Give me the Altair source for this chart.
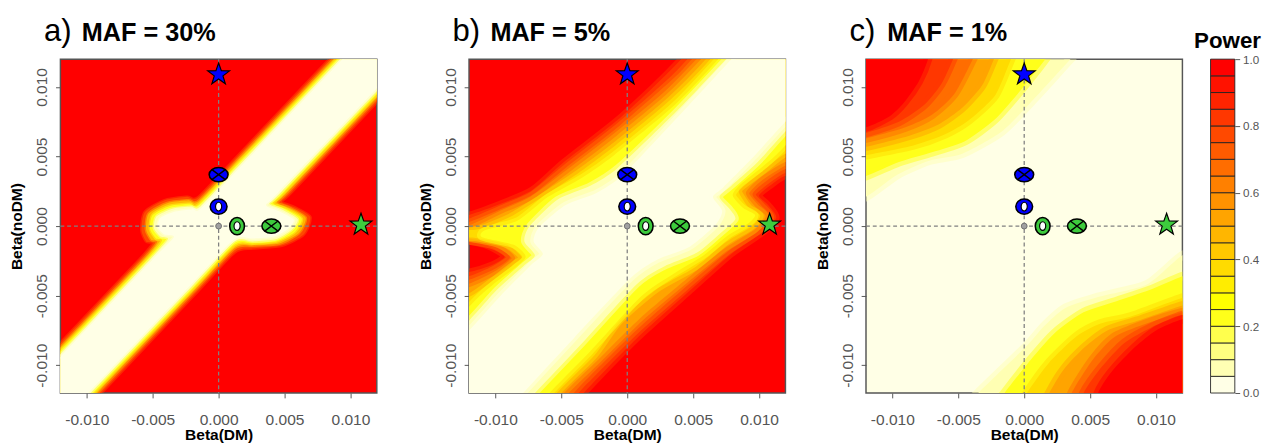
import altair as alt
import pandas as pd

# ---------------- colour palette: R heat.colors(20), from power 0.0 (bottom) to 1.0 (top)
BAND_COLORS = ["#FFFFE6", "#FFFFB3", "#FFFF80", "#FFFF4D", "#FFFF1A", "#FFFF00", "#FFED00",
               "#FFDB00", "#FFC800", "#FFB600", "#FFA400", "#FF9200", "#FF8000", "#FF6D00",
               "#FF5B00", "#FF4900", "#FF3700", "#FF2400", "#FF1200", "#FF0000"]
BAND_LO = [0.00, 0.05, 0.10, 0.15, 0.20, 0.25, 0.30, 0.35, 0.40, 0.45,
           0.50, 0.55, 0.60, 0.65, 0.70, 0.75, 0.80, 0.85, 0.90, 0.95]
BAND_HI = [0.05, 0.10, 0.15, 0.20, 0.25, 0.30, 0.35, 0.40, 0.45, 0.50,
           0.55, 0.60, 0.65, 0.70, 0.75, 0.80, 0.85, 0.90, 0.95, 1.00]
CB_TICKS = [0.0, 0.2, 0.4, 0.6, 0.8, 1.0]
AXIS_TICKS = [-0.010, -0.005, 0.0, 0.005, 0.010]

# ---------------- power contours (units of 1e-3) ----------------
# panel a: region with power below the level (over a red background)
A_P90 = [(-20, -16.4), (-12, -8.4), (-6.0, -2.4), (-5.0, -1.25), (-5.5, -1.1), (-5.85, -0.3), (-5.6, 1.0),
         (-4.1, 1.85), (-2.4, 2.1), (-1.5, 2.1), (2, 5.6), (12, 15.6), (20, 23.6),
         (20, 16.9), (12, 8.9), (5.6, 2.5), (4.8, 1.75), (5.75, 1.35), (6.95, 0.65), (6.45, -0.6),
         (4.8, -1.4), (2.6, -1.6), (1.2, -1.9), (-2, -5.1), (-12, -15.1), (-20, -23.1)]
A_P60 = [(-20, -16.7), (-12, -8.7), (-5.7, -2.4), (-4.65, -1.15), (-5.1, -1.0), (-5.5, -0.25), (-5.3, 0.9),
         (-3.9, 1.65), (-2.3, 1.85), (-1.45, 1.85), (2, 5.3), (12, 15.3), (20, 23.3),
         (20, 17.2), (12, 9.2), (5.3, 2.5), (4.45, 1.7), (5.4, 1.3), (6.6, 0.6), (6.1, -0.5),
         (4.6, -1.25), (2.6, -1.4), (1.2, -1.6), (-2, -4.8), (-12, -14.8), (-20, -22.8)]
A_P30 = [(-20, -16.95), (-12, -8.95), (-5.45, -2.4), (-4.3, -1.05), (-4.75, -0.9), (-5.2, -0.2), (-5.0, 0.8),
         (-3.7, 1.45), (-2.2, 1.6), (-1.45, 1.6), (2, 5.05), (12, 15.05), (20, 23.05),
         (20, 17.45), (12, 9.45), (5.0, 2.45), (4.15, 1.65), (5.1, 1.25), (6.3, 0.55), (5.8, -0.4),
         (4.4, -1.1), (2.6, -1.25), (1.2, -1.35), (-2, -4.55), (-12, -14.55), (-20, -22.55)]
A_P12 = [(-20, -17.2), (-12, -9.2), (-5.2, -2.4), (-3.85, -0.95), (-4.4, -0.75), (-4.9, -0.15), (-4.7, 0.7),
         (-3.5, 1.25), (-2.1, 1.4), (-1.35, 1.45), (2, 4.8), (12, 14.8), (20, 22.8),
         (20, 17.7), (12, 9.7), (4.75, 2.45), (3.85, 1.6), (4.8, 1.2), (6.0, 0.5), (5.5, -0.3),
         (4.3, -0.95), (2.6, -1.1), (1.2, -1.1), (-2, -4.3), (-12, -14.3), (-20, -22.3)]
A_P03 = [(-20, -17.4), (-12, -9.4), (-5.0, -2.4), (-3.4, -0.8), (-4.1, -0.6), (-4.6, -0.1), (-4.4, 0.6),
         (-3.3, 1.05), (-2.0, 1.2), (-1.3, 1.3), (2, 4.6), (12, 14.6), (20, 22.6),
         (20, 17.9), (12, 9.9), (4.5, 2.4), (3.6, 1.5), (4.5, 1.1), (5.7, 0.45), (5.2, -0.25),
         (4.2, -0.75), (2.6, -0.9), (1.2, -0.95), (-2, -4.1), (-12, -14.1), (-20, -22.1)]

# panel b: region with power below the level (over a red background)
B_P90 = [(-20, -12), (-14, -3.4), (-12, -3.3), (-10.4, -2.85), (-9.3, -2.2), (-10.4, -1.5), (-12, -1.1),
         (-14, -1.0), (-14, 0.6), (-12, 0.8), (-9.6, 1.6), (-7.2, 2.6), (-4.8, 4.6), (-0.4, 7.9),
         (4.2, 12.1), (12, 20.5),
         (20, 12), (14, 3.6), (12, 3.6), (10.9, 2.95), (10.0, 2.2), (10.7, 1.5), (11.3, 0.6),
         (10.2, -0.5), (7.9, -2.0), (4.8, -4.6), (0.7, -8.1), (-3.4, -12.1), (-12, -21)]
B_P75 = [(-20, -12.5), (-14, -4.1), (-12, -3.85), (-10.1, -3.1), (-8.9, -2.25), (-10.0, -1.5), (-12, -1.1),
         (-14, -1.0), (-14, 0.1), (-12, 0.3), (-9.55, 1.25), (-7.2, 2.25), (-4.65, 4.2), (-0.6, 7.2),
         (3.5, 10.6), (5.0, 12.1), (12, 19.5),
         (20, 12.5), (14, 4.3), (12, 4.1), (10.5, 3.2), (9.5, 2.3), (10.2, 1.45), (10.9, 0.65),
         (9.9, -0.4), (7.65, -1.8), (4.65, -4.2), (0.85, -7.35), (-2.9, -10.85), (-4.15, -12.1), (-12, -20.2)]
B_P60 = [(-20, -13), (-14, -4.8), (-12, -4.4), (-9.8, -3.4), (-8.5, -2.3), (-9.7, -1.35), (-12, -0.9),
         (-14, -0.8), (-14, -0.3), (-12, -0.2), (-9.5, 0.9), (-7.2, 1.9), (-4.5, 3.8), (-0.8, 6.5),
         (2.9, 9.4), (5.7, 12.1), (12, 18.6),
         (20, 13), (14, 5.0), (12, 4.6), (10.1, 3.5), (9.0, 2.4), (9.7, 1.4), (10.5, 0.7),
         (9.6, -0.3), (7.4, -1.6), (4.5, -3.8), (1.0, -6.6), (-2.2, -9.6), (-4.9, -12.1), (-12, -19.5)]
B_P45 = [(-20, -13.4), (-14, -5.3), (-12, -5.1), (-10.1, -3.85), (-8.6, -2.75), (-8.0, -2.25), (-9.1, -1.35),
         (-11.5, -0.85), (-14, -0.75), (-14, -0.25), (-11.4, -0.25), (-8.9, 0.65), (-6.6, 2.0), (-3.95, 3.65),
         (-0.9, 5.8), (3.3, 9.1), (6.4, 12.1), (14, 20.5),
         (20, 13.4), (14, 5.4), (12, 5.2), (10.2, 3.9), (8.6, 2.75), (8.5, 2.35), (9.2, 1.35), (10.1, 0.75),
         (9.4, -0.05), (7.5, -1.15), (5.15, -2.95), (2.2, -4.55), (-0.6, -6.85), (-2.5, -9.3), (-5.45, -12.1),
         (-14, -21)]
B_P30 = [(-20, -13.8), (-12, -5.8), (-10.3, -4.3), (-8.5, -3.0), (-7.7, -2.2), (-8.6, -1.35), (-11.0, -0.8),
         (-10.8, -0.3), (-8.3, 0.4), (-6.0, 2.1), (-3.4, 3.5), (-1.0, 5.1), (3.6, 8.7), (7.0, 12.1),
         (14, 19.6),
         (20, 13.8), (12, 5.8), (10.3, 4.3), (8.6, 3.0), (8.0, 2.2), (8.8, 1.3), (9.7, 0.8),
         (9.2, 0.2), (7.6, -0.7), (5.8, -2.1), (3.4, -3.5), (1.0, -5.1), (-2.8, -9.0), (-6.0, -12.1),
         (-14, -20.2)]
B_P12 = [(-20, -14.8), (-12, -6.8), (-9.9, -4.6), (-7.9, -2.9), (-7.0, -2.1), (-7.8, -1.1), (-7.4, 0.0),
         (-5.3, 1.9), (-2.8, 2.9), (-0.7, 4.2), (3.8, 8.3), (7.6, 12.1), (14, 18.6),
         (20, 14.8), (12, 6.8), (9.9, 4.6), (7.9, 2.9), (7.0, 2.1), (7.8, 1.2), (8.2, 0.5),
         (7.2, -0.4), (5.3, -1.9), (2.8, -2.9), (0.7, -4.2), (-3.5, -8.5), (-7.1, -12.1), (-14, -19)]
B_P03 = [(-20, -15.5), (-12, -7.5), (-9.6, -5.0), (-7.3, -2.8), (-6.4, -2.0), (-7.1, -1.1), (-6.7, -0.1),
         (-4.7, 1.5), (-2.3, 2.4), (-0.3, 3.7), (4, 8.0), (8, 12.1), (14, 18.2),
         (20, 15.5), (12, 7.5), (9.6, 5.0), (7.3, 2.8), (6.5, 2.1), (7.2, 1.1), (6.7, 0.1),
         (4.7, -1.5), (2.3, -2.4), (0.3, -3.7), (-4, -8.0), (-8, -12.1), (-14, -18.2)]

# panel c: corner regions with power above the level (over a cream background)
C_TL_P03 = [(-20, 20), (-20, 1.5), (-14, 1.6), (-12, 2.1), (-9.6, 3.7), (-7.2, 4.7), (-4.7, 5.2),
            (-1.7, 6.8), (0.7, 9.1), (3.5, 12.0), (5.5, 14), (5.5, 20)]
C_TL_P12 = [(-20, 20), (-20, 3.0), (-14, 3.2), (-12, 3.6), (-9.5, 4.6), (-7, 5.3), (-4.5, 6.1),
            (-2.3, 7.6), (-0.5, 9.5), (1.6, 12), (3, 14), (3, 20)]
C_TL_P30 = [(-20, 20), (-20, 4.6), (-14, 4.8), (-12, 5.1), (-8.4, 5.8), (-6, 6.6), (-4.2, 7.6),
            (-2.2, 9.4), (-1.0, 12), (0, 14), (0, 20)]
C_TL_P45 = [(-20, 20), (-20, 5.2), (-14, 5.4), (-12, 5.7), (-8.7, 6.5), (-6.5, 7.3), (-4.7, 8.5),
            (-3.2, 10.1), (-2.3, 12), (-1.4, 14), (-1.4, 20)]
C_TL_P60 = [(-20, 20), (-20, 5.8), (-14, 6.0), (-12, 6.3), (-9, 7.1), (-7, 8.0), (-5.3, 9.5),
            (-3.9, 12), (-3, 14), (-3, 20)]
C_TL_P75 = [(-20, 20), (-20, 6.3), (-14, 6.4), (-12, 6.7), (-9.5, 7.5), (-7.6, 8.7), (-6.3, 10.2),
            (-5.4, 12), (-4.6, 14), (-4.6, 20)]
C_TL_P90 = [(-20, 20), (-20, 6.8), (-14, 6.9), (-12, 7.1), (-10.2, 7.9), (-9.1, 8.9), (-8.0, 10.4),
            (-7.3, 12), (-6.9, 14), (-6.9, 20)]
C_BR_P03 = [(20, -20), (20, -1.5), (14, -1.6), (12, -2.1), (9.3, -4.2), (5.6, -5.1), (3.1, -5.9),
            (1.5, -7.2), (0.2, -8.6), (-3.5, -12), (-5.5, -14), (-5.5, -20)]
C_BR_P12 = [(20, -20), (20, -3.0), (14, -3.2), (12, -3.6), (9.5, -4.6), (7, -5.4), (4.5, -6.2),
            (2.3, -7.7), (0.5, -9.6), (-1.5, -12), (-3, -14), (-3, -20)]
C_BR_P30 = [(20, -20), (20, -4.6), (14, -4.8), (12, -5.15), (8.1, -6.5), (5.8, -7.0), (4.0, -7.9),
            (1.9, -9.8), (0.2, -12), (-1, -14), (-1, -20)]
C_BR_P45 = [(20, -20), (20, -5.2), (14, -5.3), (12, -5.7), (8.6, -6.8), (6.3, -7.5), (4.6, -8.7),
            (3.0, -10.3), (1.9, -12), (1, -14), (1, -20)]
C_BR_P60 = [(20, -20), (20, -5.8), (14, -5.9), (12, -6.2), (9, -7.1), (6.8, -8.0), (5.2, -9.6),
            (3.6, -12), (3, -14), (3, -20)]
C_BR_P75 = [(20, -20), (20, -6.2), (14, -6.2), (12, -6.4), (9.6, -7.3), (7.6, -8.4), (5.9, -10.1),
            (4.5, -12), (3.9, -14), (3.9, -20)]
C_BR_P90 = [(20, -20), (20, -6.6), (14, -6.6), (12, -6.7), (10, -7.5), (8.4, -8.7), (6.6, -10.5),
            (5.6, -12), (5.2, -14), (5.2, -20)]

# ---------------- markers (same in every panel) ----------------
MK_X = [0.0, 0.0040, 0.0, 0.0014, 0.0, 0.0108, 0.0]
MK_Y = [0.0037, 0.0, 0.0014, 0.0, 0.0109, 0.0001, 0.0]
MK_KIND = ["xcircle", "xcircle", "ring_wide", "ring_tall", "star", "star", "dot"]
MK_FILL = ["#0000FF", "#3DCB3D", "#0000FF", "#3DCB3D", "#0000FF", "#3DCB3D", "#A0A0A0"]

PANEL_LETTERS = ["a)", "b)", "c)"]
PANEL_TITLES = ["MAF = 30%", "MAF = 5%", "MAF = 1%"]

# ---------------- styles ----------------
FONT = "Liberation Sans"
W, H = 326, 344
ELLIPSE = "M-1,0A1,0.75,0,1,0,1,0A1,0.75,0,1,0,-1,0Z"
XPATH = "M-0.707,-0.53L0.707,0.53M-0.707,0.53L0.707,-0.53"
ELL_WIDE = "M-1,0A1,0.9,0,1,0,1,0A1,0.9,0,1,0,-1,0Z"
ELL_TALL = "M-0.85,0A0.85,1,0,1,0,0.85,0A0.85,1,0,1,0,-0.85,0Z"
ELL_INNER = "M-0.7,0A0.7,1,0,1,0,0.7,0A0.7,1,0,1,0,-0.7,0Z"
STAR = ("M0,-1L0.235,-0.324L0.951,-0.309L0.380,0.124L0.588,0.809L0,0.4L-0.588,0.809"
        "L-0.380,0.124L-0.951,-0.309L-0.235,-0.324Z")

LABEL_EXPR = "replace(format(datum.value, '.3f'), '\u2212', '-')"
SCALE = alt.Scale(domain=[-0.012, 0.012], nice=False, zero=False)
X_ENC = alt.X("x:Q", scale=SCALE,
              axis=alt.Axis(values=AXIS_TICKS, labelExpr=LABEL_EXPR, title="Beta(DM)",
                            tickSize=5, labelPadding=14, titlePadding=0, labelFontSize=16,
                            titleFontSize=16))
Y_ENC = alt.Y("y:Q", scale=SCALE,
              axis=alt.Axis(values=AXIS_TICKS, labelExpr=LABEL_EXPR, title="Beta(noDM)",
                            tickSize=5, labelPadding=6, titlePadding=10, labelFontSize=16,
                            titleFontSize=16, labelAngle=270))


def poly_frame(polys):
    rows = []
    for pid, (lvl, pts) in enumerate(polys):
        for i, (x, y) in enumerate(pts):
            rows.append({"pid": pid, "lvl": lvl, "i": i, "x": x / 1000.0, "y": y / 1000.0})
    return pd.DataFrame(rows)


def panel(polys, level_fills, bg, idx, soft):
    df = poly_frame(polys)
    layers = []
    for lvl, col in level_fills:
        layers.append(
            alt.Chart(df).transform_filter(alt.datum.lvl == lvl)
            .mark_line(fill=col, stroke=col, strokeWidth=soft, strokeOpacity=0.5, strokeJoin="round",
                       interpolate="cardinal-closed", tension=0.3, clip=True)
            .encode(x=X_ENC, y=Y_ENC, order="i:Q", detail="pid:N")
        )
    layers.append(alt.Chart(pd.DataFrame({"x": [0.0]})).mark_rule(
        color="#808080", strokeDash=[4, 3], strokeWidth=1.3).encode(x=X_ENC))
    layers.append(alt.Chart(pd.DataFrame({"y": [0.0]})).mark_rule(
        color="#808080", strokeDash=[4, 3], strokeWidth=1.3).encode(y=Y_ENC))

    mk = pd.DataFrame({"x": MK_X, "y": MK_Y, "kind": MK_KIND, "fill": MK_FILL})
    base = alt.Chart(mk)
    fill_enc = alt.Fill("fill:N", scale=None)
    layers += [
        base.transform_filter(alt.datum.kind == "dot").mark_point(
            shape="circle", filled=True, size=36, stroke="#707070", strokeWidth=1, opacity=1
        ).encode(x=X_ENC, y=Y_ENC, fill=fill_enc),
        base.transform_filter(alt.datum.kind == "xcircle").mark_point(
            shape=ELLIPSE, filled=True, size=380, stroke="black", strokeWidth=1.6, opacity=1
        ).encode(x=X_ENC, y=Y_ENC, fill=fill_enc),
        base.transform_filter(alt.datum.kind == "xcircle").mark_point(
            shape=XPATH, filled=False, size=380, stroke="black", strokeWidth=1.4, opacity=1
        ).encode(x=X_ENC, y=Y_ENC),
        base.transform_filter(alt.datum.kind == "ring_wide").mark_point(
            shape=ELL_WIDE, filled=True, size=300, stroke="black", strokeWidth=1.6, opacity=1
        ).encode(x=X_ENC, y=Y_ENC, fill=fill_enc),
        base.transform_filter(alt.datum.kind == "ring_tall").mark_point(
            shape=ELL_TALL, filled=True, size=320, stroke="black", strokeWidth=1.6, opacity=1
        ).encode(x=X_ENC, y=Y_ENC, fill=fill_enc),
        base.transform_filter((alt.datum.kind == "ring_wide") | (alt.datum.kind == "ring_tall")).mark_point(
            shape=ELL_INNER, filled=True, size=81, fill="white", stroke="black", strokeWidth=1.2, opacity=1
        ).encode(x=X_ENC, y=Y_ENC),
        base.transform_filter(alt.datum.kind == "star").mark_point(
            shape=STAR, filled=True, size=560, stroke="black", strokeWidth=1.2, opacity=1
        ).encode(x=X_ENC, y=Y_ENC, fill=fill_enc),
    ]
    t = pd.DataFrame({"letter": [PANEL_LETTERS[idx]], "title": [PANEL_TITLES[idx]]})
    layers.append(alt.Chart(t).mark_text(align="left", baseline="alphabetic", font=FONT,
                                         fontSize=32, color="black")
                  .encode(x=alt.value(-17), y=alt.value(-19), text="letter:N"))
    layers.append(alt.Chart(t).mark_text(align="left", baseline="alphabetic", font=FONT,
                                         fontSize=26, fontWeight="bold", color="black")
                  .encode(x=alt.value(22), y=alt.value(-19), text="title:N"))
    return alt.layer(*layers).properties(
        width=W, height=H,
        view=alt.ViewBackground(fill=bg, stroke="#555555", strokeWidth=1.5))


FILLS_A = [("p90", "#FF4900"), ("p60", "#FFB600"), ("p30", "#FFFF1A"),
           ("p12", "#FFFFB3"), ("p03", "#FFFFE6")]
FILLS_B = [("p90", "#FF3700"), ("p75", "#FF6D00"), ("p60", "#FFA400"), ("p45", "#FFDB00"),
           ("p30", "#FFFF1A"), ("p12", "#FFFFB3"), ("p03", "#FFFFE6")]
FILLS_C = [("p03", "#FFFFB3"), ("p12", "#FFFF1A"), ("p30", "#FFDB00"), ("p45", "#FFA400"),
           ("p60", "#FF6D00"), ("p75", "#FF3700"), ("p90", "#FF0000")]

panel_a = panel([("p90", A_P90), ("p60", A_P60), ("p30", A_P30), ("p12", A_P12), ("p03", A_P03)],
                FILLS_A, "#FF0000", 0, 3)
panel_b = panel([("p90", B_P90), ("p75", B_P75), ("p60", B_P60), ("p45", B_P45), ("p30", B_P30),
                 ("p12", B_P12), ("p03", B_P03)],
                FILLS_B, "#FF0000", 1, 7)
panel_c = panel([("p03", C_TL_P03), ("p03", C_BR_P03), ("p12", C_TL_P12), ("p12", C_BR_P12),
                 ("p30", C_TL_P30), ("p30", C_BR_P30), ("p45", C_TL_P45), ("p45", C_BR_P45),
                 ("p60", C_TL_P60), ("p60", C_BR_P60), ("p75", C_TL_P75), ("p75", C_BR_P75),
                 ("p90", C_TL_P90), ("p90", C_BR_P90)],
                FILLS_C, "#FFFFE6", 2, 9)

cb_df = pd.DataFrame({"lo": BAND_LO, "hi": BAND_HI, "col": BAND_COLORS})
cb_bar = alt.Chart(cb_df).mark_rect(stroke="#222222", strokeWidth=0.9).encode(
    y=alt.Y("lo:Q", scale=alt.Scale(domain=[0, 1], nice=False, zero=False),
            axis=alt.Axis(orient="right", values=CB_TICKS, format=".1f", title=None,
                          tickSize=5, labelPadding=3, labelFontSize=12)),
    y2="hi:Q",
    fill=alt.Fill("col:N", scale=None),
)
cb_title = alt.Chart(pd.DataFrame({"t": ["Power"]})).mark_text(
    align="left", baseline="alphabetic", font=FONT, fontSize=23, fontWeight="bold", color="black"
).encode(x=alt.value(-17), y=alt.value(-12), text="t:N")
colorbar = alt.layer(cb_bar, cb_title).properties(
    width=25, height=H, view=alt.ViewBackground(stroke="transparent"))

chart = alt.hconcat(
    alt.hconcat(panel_a, panel_b, spacing=39),
    alt.hconcat(panel_c, colorbar, spacing=9),
    spacing=27,
).properties(
    padding=0
).configure_axis(
    labelFont=FONT, titleFont=FONT, labelColor="#555555", tickColor="#555555",
    titleColor="black", titleFontWeight="bold", domain=False, grid=False
)

chart.save("out.html", embed_options={"renderer": "svg", "actions": False})
